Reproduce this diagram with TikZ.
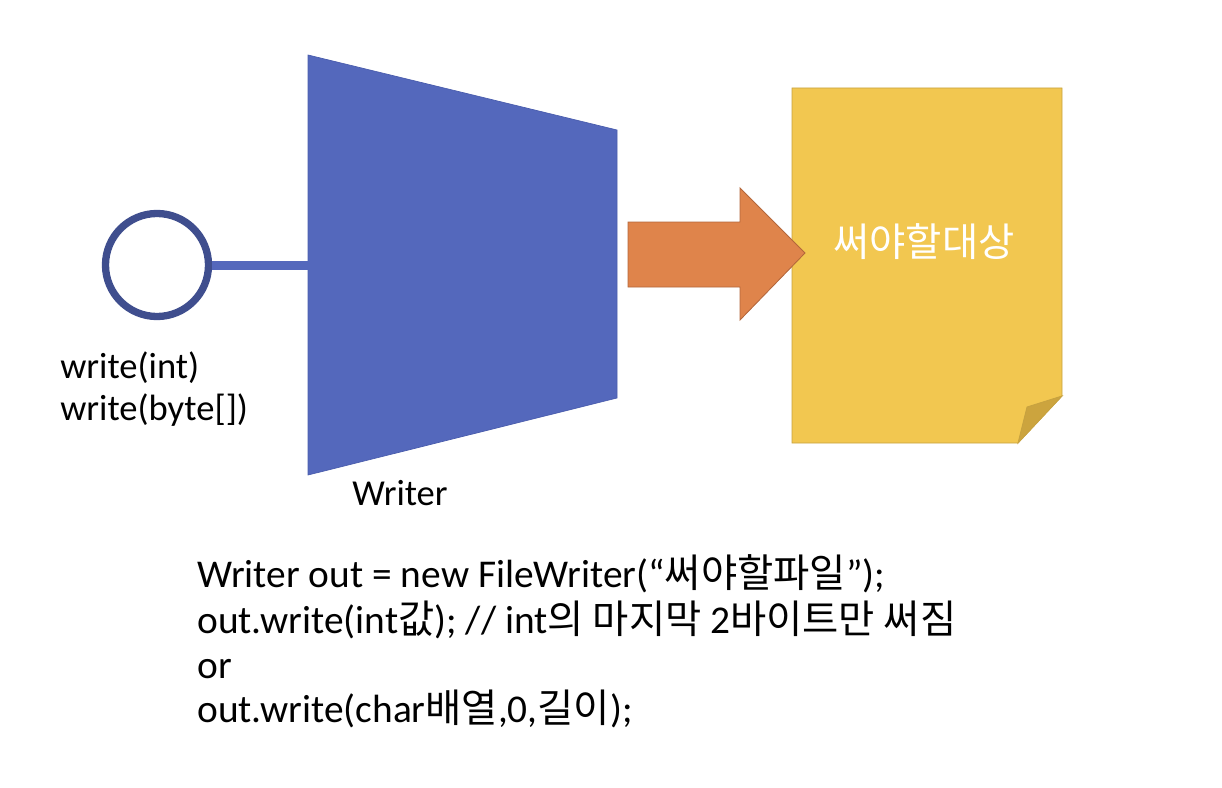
\documentclass[tikz,border=0pt]{standalone}
\usepackage{fontspec}
\setmainfont{Carlito}
\newfontfamily\kr{Noto Sans CJK KR}
\usetikzlibrary{positioning}
\definecolor{writerblue}{HTML}{5468BC}
\definecolor{writeredge}{HTML}{4A5DAD}
\definecolor{portnavy}{HTML}{3F4E8E}
\definecolor{flowamber}{HTML}{DF844B}
\definecolor{flowedge}{HTML}{B3663B}
\definecolor{targetgold}{HTML}{F2C750}
\definecolor{targetedge}{HTML}{C7A240}
\definecolor{targetfold}{HTML}{CCA43E}

\begin{document}
\begin{tikzpicture}[x=0.025cm, y=-0.025cm]
    \tikzstyle{txt} = [anchor=base west, inner sep=0pt, font=\fontsize{26}{30}\selectfont]
    \tikzstyle{codeline} = [anchor=base west, inner sep=0pt, font=\fontsize{28}{34}\selectfont]

    \useasboundingbox (0,0) rectangle (1222,788);

    % Writer funnel
    \draw [fill=writerblue, draw=writeredge, line width=0.5pt]
      (308,55) -- (617,130) -- (617,398) -- (308,475) -- cycle;
    \coordinate (writer-in) at (309,265);
    \node (writer) [txt] at (352,505) {Writer};

    % interface port
    \node (port) [circle, draw=portnavy, line width=5.2pt, minimum size=2.575cm, inner sep=0pt] at (157,265) {};
    \draw [writerblue, line width=6.4pt] (port.east) -- (writer-in);

    \node (wint)  [txt] at (60,378) {write(int)};
    \node (wbyte) [txt] at (60,420) {write(byte[])};

    % target document with folded corner
    \draw [fill=targetgold, draw=targetedge, line width=0.6pt]
      (792,88) -- (1062,88) -- (1062,396) -- (1018,443) -- (792,443) -- cycle;
    \draw [fill=targetfold, draw=targetedge, line width=0.6pt]
      (1062,396) -- (1027,407) -- (1018,443) -- cycle;
    \node (target) [font=\kr\fontsize{28}{32}\selectfont, text=white] at (924,242) {써야할대상};

    % flow arrow (tip overlaps the document)
    \draw [fill=flowamber, draw=flowedge, line width=0.6pt]
      (628,222) -- (740,222) -- (740,188) -- (805,253) -- (740,320) -- (740,287) -- (628,287) -- cycle;

    % code sample
    \node (code1) [codeline] at (197,587) {Writer out = new FileWriter(“{\kr 써야할파일}”);};
    \node (code2) [codeline] at (197,633) {out.write(int{\kr 값}); // int{\kr 의 마지막 }2{\kr 바이트만 써짐}};
    \node (code3) [codeline] at (197,678) {or};
    \node (code4) [codeline] at (197,722) {out.write(char{\kr 배열},0,{\kr 길이});};
\end{tikzpicture}
\end{document}
